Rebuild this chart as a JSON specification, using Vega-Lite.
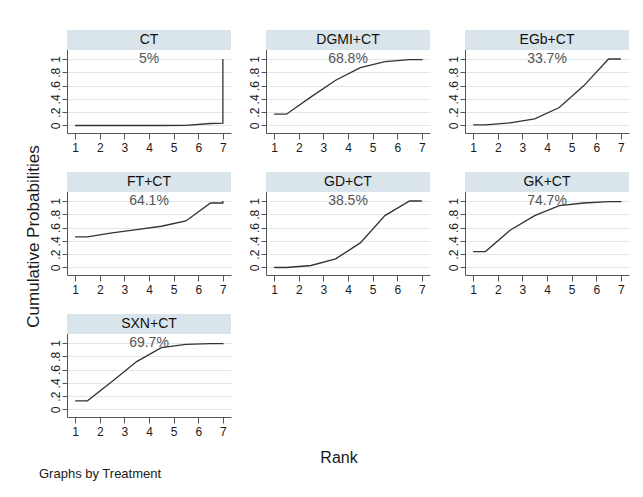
{
  "$schema": "https://vega.github.io/schema/vega-lite/v6.json",
  "background": "#ffffff",
  "padding": {"left": 24, "top": 30, "right": 10, "bottom": 8},
  "config": {
    "font": "Liberation Sans",
    "view": {"stroke": null, "fill": "#ffffff"},
    "header": {"labels": false, "title": null, "labelFontSize": 0, "labelPadding": 0, "labelExpr": "''"},
    "headerFacet": {"labels": false, "title": null, "labelFontSize": 0, "labelPadding": 0, "labelExpr": "''"},
    "axisX": {"grid": false, "domainColor": "#555555", "tickColor": "#555555", "tickSize": 6, "labelPadding": 3, "labelFontSize": 12, "labelColor": "#1a1a1a", "labelFont": "Liberation Sans", "labelOverlap": false},
    "axisY": {"grid": true, "gridColor": "#dde8ec", "gridWidth": 1, "domainColor": "#555555", "tickColor": "#555555", "tickSize": 5, "labelPadding": 0, "labelAngle": 270, "labelFontSize": 12, "labelColor": "#1a1a1a", "labelOverlap": false, "labelFlush": false, "labelFont": "Liberation Sans"}
  },
  "title": {"text": "Cumulative Probabilities", "orient": "left", "anchor": "middle", "fontSize": 17, "font": "Liberation Sans", "fontWeight": "normal", "color": "#1a1a1a", "offset": -4, "dx": 19},
  "vconcat": [
    {
      "title": {"text": "Graphs by Treatment", "orient": "bottom", "anchor": "start", "fontSize": 13, "font": "Liberation Sans", "fontWeight": "normal", "color": "#1a1a1a", "offset": 2, "dx": -10},
      "vconcat": [
        {
          "title": {"text": "Rank", "orient": "bottom", "anchor": "middle", "fontSize": 16, "font": "Liberation Sans", "fontWeight": "normal", "color": "#1a1a1a", "offset": 13},
          "data": {"values": [
            {"treatment": "CT", "sucra": "5%"},
            {"treatment": "DGMI+CT", "sucra": "68.8%"},
            {"treatment": "EGb+CT", "sucra": "33.7%"},
            {"treatment": "FT+CT", "sucra": "64.1%"},
            {"treatment": "GD+CT", "sucra": "38.5%"},
            {"treatment": "GK+CT", "sucra": "74.7%"},
            {"treatment": "SXN+CT", "sucra": "69.7%"},
            {"treatment": "CT", "i": 1, "rank": 1, "cum": 0},
            {"treatment": "CT", "i": 2, "rank": 1.5, "cum": 0},
            {"treatment": "CT", "i": 3, "rank": 2.5, "cum": 0},
            {"treatment": "CT", "i": 4, "rank": 3.5, "cum": 0},
            {"treatment": "CT", "i": 5, "rank": 4.5, "cum": 0},
            {"treatment": "CT", "i": 6, "rank": 5.5, "cum": 0.003},
            {"treatment": "CT", "i": 7, "rank": 6.5, "cum": 0.03},
            {"treatment": "CT", "i": 8, "rank": 7, "cum": 0.035},
            {"treatment": "CT", "i": 9, "rank": 7, "cum": 1},
            {"treatment": "DGMI+CT", "i": 1, "rank": 1, "cum": 0.17},
            {"treatment": "DGMI+CT", "i": 2, "rank": 1.5, "cum": 0.17},
            {"treatment": "DGMI+CT", "i": 3, "rank": 2.5, "cum": 0.43},
            {"treatment": "DGMI+CT", "i": 4, "rank": 3.5, "cum": 0.68},
            {"treatment": "DGMI+CT", "i": 5, "rank": 4.5, "cum": 0.87},
            {"treatment": "DGMI+CT", "i": 6, "rank": 5.5, "cum": 0.96},
            {"treatment": "DGMI+CT", "i": 7, "rank": 6.5, "cum": 0.99},
            {"treatment": "DGMI+CT", "i": 8, "rank": 7, "cum": 0.99},
            {"treatment": "DGMI+CT", "i": 9, "rank": 7, "cum": 1},
            {"treatment": "EGb+CT", "i": 1, "rank": 1, "cum": 0.01},
            {"treatment": "EGb+CT", "i": 2, "rank": 1.5, "cum": 0.01},
            {"treatment": "EGb+CT", "i": 3, "rank": 2.5, "cum": 0.04},
            {"treatment": "EGb+CT", "i": 4, "rank": 3.5, "cum": 0.10},
            {"treatment": "EGb+CT", "i": 5, "rank": 4.5, "cum": 0.27},
            {"treatment": "EGb+CT", "i": 6, "rank": 5.5, "cum": 0.60},
            {"treatment": "EGb+CT", "i": 7, "rank": 6.5, "cum": 1},
            {"treatment": "EGb+CT", "i": 8, "rank": 7, "cum": 1},
            {"treatment": "EGb+CT", "i": 9, "rank": 7, "cum": 1},
            {"treatment": "FT+CT", "i": 1, "rank": 1, "cum": 0.46},
            {"treatment": "FT+CT", "i": 2, "rank": 1.5, "cum": 0.46},
            {"treatment": "FT+CT", "i": 3, "rank": 2.5, "cum": 0.52},
            {"treatment": "FT+CT", "i": 4, "rank": 3.5, "cum": 0.57},
            {"treatment": "FT+CT", "i": 5, "rank": 4.5, "cum": 0.62},
            {"treatment": "FT+CT", "i": 6, "rank": 5.5, "cum": 0.70},
            {"treatment": "FT+CT", "i": 7, "rank": 6.5, "cum": 0.97},
            {"treatment": "FT+CT", "i": 8, "rank": 7, "cum": 0.97},
            {"treatment": "FT+CT", "i": 9, "rank": 7, "cum": 1},
            {"treatment": "GD+CT", "i": 1, "rank": 1, "cum": 0},
            {"treatment": "GD+CT", "i": 2, "rank": 1.5, "cum": 0},
            {"treatment": "GD+CT", "i": 3, "rank": 2.5, "cum": 0.03},
            {"treatment": "GD+CT", "i": 4, "rank": 3.5, "cum": 0.13},
            {"treatment": "GD+CT", "i": 5, "rank": 4.5, "cum": 0.37},
            {"treatment": "GD+CT", "i": 6, "rank": 5.5, "cum": 0.78},
            {"treatment": "GD+CT", "i": 7, "rank": 6.5, "cum": 1},
            {"treatment": "GD+CT", "i": 8, "rank": 7, "cum": 1},
            {"treatment": "GD+CT", "i": 9, "rank": 7, "cum": 1},
            {"treatment": "GK+CT", "i": 1, "rank": 1, "cum": 0.24},
            {"treatment": "GK+CT", "i": 2, "rank": 1.5, "cum": 0.24},
            {"treatment": "GK+CT", "i": 3, "rank": 2.5, "cum": 0.56},
            {"treatment": "GK+CT", "i": 4, "rank": 3.5, "cum": 0.78},
            {"treatment": "GK+CT", "i": 5, "rank": 4.5, "cum": 0.93},
            {"treatment": "GK+CT", "i": 6, "rank": 5.5, "cum": 0.97},
            {"treatment": "GK+CT", "i": 7, "rank": 6.5, "cum": 0.99},
            {"treatment": "GK+CT", "i": 8, "rank": 7, "cum": 0.99},
            {"treatment": "GK+CT", "i": 9, "rank": 7, "cum": 1},
            {"treatment": "SXN+CT", "i": 1, "rank": 1, "cum": 0.13},
            {"treatment": "SXN+CT", "i": 2, "rank": 1.5, "cum": 0.13},
            {"treatment": "SXN+CT", "i": 3, "rank": 2.5, "cum": 0.42},
            {"treatment": "SXN+CT", "i": 4, "rank": 3.5, "cum": 0.72},
            {"treatment": "SXN+CT", "i": 5, "rank": 4.5, "cum": 0.93},
            {"treatment": "SXN+CT", "i": 6, "rank": 5.5, "cum": 0.98},
            {"treatment": "SXN+CT", "i": 7, "rank": 6.5, "cum": 0.99},
            {"treatment": "SXN+CT", "i": 8, "rank": 7, "cum": 0.99},
            {"treatment": "SXN+CT", "i": 9, "rank": 7, "cum": 1}
          ]},
          "facet": {
            "field": "treatment", "type": "nominal",
            "sort": ["CT", "DGMI+CT", "EGb+CT", "FT+CT", "GD+CT", "GK+CT", "SXN+CT"],
            "title": null,
            "header": {"labels": false, "title": null, "labelFontSize": 0, "labelPadding": 0, "labelExpr": "''"}
          },
          "columns": 3,
          "spacing": {"row": 39, "column": 35},
          "bounds": "flush",
          "resolve": {"axis": {"x": "independent", "y": "independent"}},
          "spec": {
            "width": 164,
            "height": 103,
            "layer": [
              {
                "transform": [{"filter": "isValid(datum.rank)"}],
                "mark": {"type": "line", "color": "#333333", "strokeWidth": 1.3},
                "encoding": {
                  "x": {"field": "rank", "type": "quantitative", "scale": {"domain": [0.67, 7.33], "nice": false, "zero": false}, "axis": {"title": null, "values": [1,2,3,4,5,6,7], "tickCount": 7, "labelOverlap": false}},
                  "y": {"field": "cum", "type": "quantitative", "scale": {"domain": [-0.113, 1.436], "nice": false, "zero": false}, "axis": {"title": null, "values": [0,0.2,0.4,0.6,0.8,1], "tickCount": 6, "labelOverlap": false, "labelExpr": "datum.value == 0 ? '0' : (datum.value == 1 ? '1' : '.' + round(datum.value * 10))"}},
                  "order": {"field": "i", "type": "quantitative"}
                }
              },
              {
                "transform": [{"filter": "isValid(datum.sucra)"}],
                "mark": {"type": "rect", "color": "#d9e5eb"},
                "encoding": {
                  "x": {"datum": 0.67, "type": "quantitative"},
                  "x2": {"datum": 7.33},
                  "y": {"datum": 1.135, "type": "quantitative"},
                  "y2": {"datum": 1.436}
                }
              },
              {
                "transform": [{"filter": "isValid(datum.sucra)"}],
                "mark": {"type": "text", "fontSize": 14, "color": "#111111", "baseline": "middle", "align": "center"},
                "encoding": {
                  "x": {"datum": 4, "type": "quantitative"},
                  "y": {"datum": 1.285, "type": "quantitative"},
                  "text": {"field": "treatment", "type": "nominal"}
                }
              },
              {
                "transform": [{"filter": "isValid(datum.sucra)"}],
                "mark": {"type": "text", "fontSize": 14, "color": "#555555", "baseline": "middle", "align": "center"},
                "encoding": {
                  "x": {"datum": 4, "type": "quantitative"},
                  "y": {"datum": 1.0, "type": "quantitative"},
                  "text": {"field": "sucra", "type": "nominal"}
                }
              }
            ]
          }
        }
      ]
    }
  ]
}
